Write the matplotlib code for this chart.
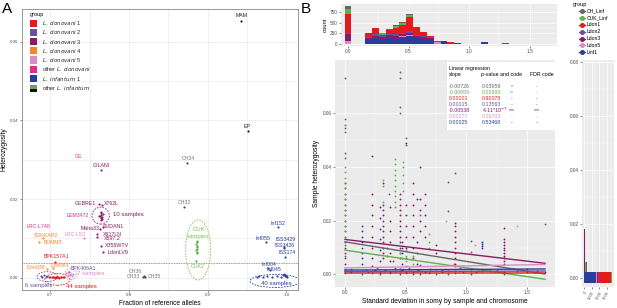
import matplotlib
matplotlib.use('Agg')
import matplotlib.pyplot as plt
from matplotlib.patches import Ellipse, Rectangle
from matplotlib.lines import Line2D

plt.rcParams['font.family'] = ['Liberation Sans', 'DejaVu Sans']

# ---------------- Panel A data ----------------
A_GROUPS = [r'$\it{L.\ donovani}$ 1', r'$\it{L.\ donovani}$ 2', r'$\it{L.\ donovani}$ 3',
            r'$\it{L.\ donovani}$ 4', r'$\it{L.\ donovani}$ 5', r'other $\it{L.\ donovani}$',
            r'$\it{L.\ infantum}$ 1', r'other $\it{L.\ infantum}$']
A_COLORS = ['#e41a1c', '#6a4fa3', '#8b1a62', '#f7862b', '#d98bc7', '#e7298a', '#2b3d9a', None]

LDON1_X = [0.700, 0.702, 0.703, 0.705, 0.706, 0.707, 0.708, 0.709, 0.710, 0.711, 0.713, 0.714, 0.716, 0.718, 0.706]
LDON1_Y = [0.0002, 0.0001, 0.0003, 0.0002, 0.0000, 0.0003, 0.0001, 0.0002, 0.0002, 0.0000, 0.0003, 0.0001, 0.0002, 0.0001, 0.0041]
LDON2_X = [0.688, 0.690, 0.692, 0.694, 0.696, 0.698, 0.724]
LDON2_Y = [0.0005, 0.0002, 0.0006, 0.0003, 0.0004, 0.0001, 0.0016]
LDON3_X = [0.765, 0.762, 0.766, 0.764, 0.765, 0.763, 0.766, 0.764, 0.765, 0.762, 0.767, 0.764, 0.766,
           0.763, 0.767, 0.760, 0.760, 0.764, 0.767]
LDON3_Y = [0.0274, 0.0187, 0.0185, 0.0164, 0.0160, 0.0156, 0.0155, 0.0152, 0.0148, 0.0158, 0.0162, 0.0167, 0.0150,
           0.0124, 0.0130, 0.0112, 0.0103, 0.0082, 0.0066]
LDON4_X = [0.691, 0.686, 0.696, 0.704]
LDON4_Y = [0.0100, 0.0090, 0.0022, 0.0026]
LDON5_X = [0.720, 0.722, 0.723, 0.725, 0.726, 0.728, 0.729, 0.743]
LDON5_Y = [0.0012, 0.0008, 0.0014, 0.0006, 0.0010, 0.0005, 0.0009, 0.0100]
LINF1_X = [0.990, 0.974, 0.997, 0.997, 0.998, 0.977, 0.980,
           0.963, 0.966, 0.970, 0.975, 0.982, 0.988, 0.993, 0.996, 0.997, 0.998, 0.999, 1.000, 1.001]
LINF1_Y = [0.0128, 0.0090, 0.0078, 0.0076, 0.0054, 0.0024, 0.0020,
           0.0003, 0.0005, 0.0002, 0.0004, 0.0003, 0.0005, 0.0002, 0.0006, 0.0009, 0.0004, 0.0007, 0.0005, 0.0003]
CH_X = [0.874, 0.870, 0.818, 0.819, 0.820]
CH_Y = [0.0291, 0.0181, 0.0002, 0.0004, 0.0001]
CUK_X = [0.886, 0.887, 0.885, 0.886, 0.887, 0.886, 0.885, 0.886, 0.887, 0.885]
CUK_Y = [0.0062, 0.0066, 0.0070, 0.0074, 0.0078, 0.0082, 0.0086, 0.0090, 0.0094, 0.0043]
OTHER_X = [0.943, 0.951]
OTHER_Y = [0.0652, 0.0374]

A_LABELS = ['MAM', 'EP', 'GE', 'GILANI', 'CH34', 'CH32', 'GEBRE1', 'X762L', 'LEM3472', '10 samples',
            'Malta33', 'SUDAN1', 'X917LN', 'X597.2', 'X356WTV', 'LdonLV9', 'LRC-L740', 'SUKKAR2', 'BUMM3',
            'LRC-L53', 'BPK157A1', 'Don038', 'Don081', 'BPK406A1', '7 samples', '6 samples', '44 samples',
            'CH36', 'CH33', 'CH35', 'CUK', 'samples', 'CUK2', 'Inf152', 'Inf055', 'ISS3429', 'ISS3426',
            'ISS174', 'Inf004', 'Inf045', '40 samples']
A_LABEL_X = [0.943, 0.950, 0.736, 0.765, 0.875, 0.870, 0.744, 0.778, 0.735, 0.799,
             0.751, 0.780, 0.779, 0.779, 0.785, 0.786, 0.685, 0.694, 0.703,
             0.731, 0.708, 0.682, 0.712, 0.742, 0.751, 0.685, 0.740,
             0.808, 0.806, 0.832, 0.889, 0.888, 0.887, 0.989, 0.971, 0.999, 0.998,
             1.001, 0.978, 0.984, 0.987]
A_LABEL_Y = [0.0667, 0.0384, 0.0308, 0.0285, 0.0302, 0.0191, 0.0190, 0.0190, 0.0158, 0.0161,
             0.0126, 0.0130, 0.0111, 0.0100, 0.0081, 0.0065, 0.0130, 0.0107, 0.0090,
             0.0109, 0.0054, 0.0025, 0.0031, 0.0024, 0.0010, -0.0020, -0.0023,
             0.0016, 0.0003, 0.0004, 0.0123, 0.0104, 0.0028, 0.0139, 0.0100, 0.0098, 0.0081,
             0.0064, 0.0035, 0.0021, -0.0014]
A_LABEL_COLORS = ['#222222', '#222222', '#e7298a', '#8b1a62', '#777777', '#777777', '#8b1a62', '#8b1a62',
                  '#e7298a', '#8b1a62', '#8b1a62', '#8b1a62', '#8b1a62', '#8b1a62', '#8b1a62', '#8b1a62',
                  '#e7298a', '#f7862b', '#f7862b', '#d98bc7', '#e41a1c', '#f7862b', '#f7862b', '#6a4fa3',
                  '#d98bc7', '#6a4fa3', '#e41a1c', '#777777', '#777777', '#777777', '#7cc04f', '#7cc04f',
                  '#7cc04f', '#2b3d9a', '#2b3d9a', '#2b3d9a', '#2b3d9a', '#2b3d9a', '#2b3d9a', '#2b3d9a',
                  '#2b3d9a']

# ---------------- Panel B data ----------------
B_GROUPS = ['CH_Linf', 'CUK_Linf', 'Ldon1', 'Ldon2', 'Ldon3', 'Ldon5', 'Linf1']
B_COLORS = ['#666666', '#5fb14b', '#e41a1c', '#6a4fa3', '#8b1a62', '#d98bc7', '#2b3d9a']
SLOPES = [-0.00726, -0.00655, 0.00001, 0.00015, -0.00538, 0.00077, 0.00025]
INTERCEPTS = [0.0121, 0.0090, 0.0005, 0.0010, 0.0130, 0.0024, 0.0016]
SLOPE_TEXT = ['-0.00726', '-0.00655', '0.00001', '0.00015', '-0.00538', '0.00077', '0.00025']
P_TEXT = ['0.03959', '0.00990', '0.90075', '0.13563', r'4.11*10$^{-7}$', '0.16703', '0.53468']
P_CODE = ['*', '**', '-', '-', '***', '-', '-']
FDR_CODE = ['-', '-', '-', '-', '***', '-', '-']

HIST_CENTERS = [0.0, 0.17, 0.226, 0.283, 0.34, 0.396, 0.453, 0.51, 0.566, 0.623, 0.68, 0.736,
                0.793, 0.85, 0.906, 1.02, 1.13, 1.30]
HIST_CH = [60, 0, 0, 0, 10, 10, 20, 20, 0, 0, 0, 0, 0, 0, 0, 10, 0, 0]
HIST_CUK = [120, 0, 0, 30, 10, 50, 40, 60, 10, 0, 0, 0, 0, 0, 0, 0, 0, 0]
HIST_LDON1 = [440, 100, 160, 40, 90, 155, 180, 320, 175, 100, 27, 0, 0, 50, 0, 0, 0, 20]
HIST_LDON2 = [40, 20, 30, 20, 30, 30, 40, 40, 30, 20, 20, 22, 0, 0, 0, 0, 0, 0]
HIST_LDON3 = [150, 20, 50, 40, 60, 80, 40, 60, 40, 40, 30, 20, 0, 0, 30, 0, 0, 0]
HIST_LDON5 = [80, 0, 0, 0, 0, 0, 20, 10, 0, 0, 0, 40, 0, 0, 0, 0, 0, 0]
HIST_LINF1 = [0, 130, 150, 120, 150, 120, 170, 200, 150, 130, 110, 0, 80, 0, 0, 0, 40, 0]

MARG_CENTERS = [0.0, 0.004, 0.008, 0.012, 0.016, 0.020, 0.024]
MARG_CH = [50, 100, 0, 0, 0, 0, 15]
MARG_CUK = [150, 150, 30, 20, 0, 40, 30]
MARG_LDON1 = [1550, 0, 0, 0, 0, 0, 0]
MARG_LDON2 = [100, 0, 0, 0, 0, 0, 0]
MARG_LDON3 = [150, 150, 120, 100, 80, 30, 0]
MARG_LDON5 = [100, 0, 0, 0, 0, 0, 0]
MARG_LINF1 = [1600, 0, 0, 0, 0, 0, 0]

CH_COL_X = [0.0, 0.45, 0.50, 0.85, 0.91, 1.04, 1.65, 0.36, 0.62]
CH_COL_Y = [[0.0730, 0.0577, 0.0556, 0.0544, 0.0531, 0.0451, 0.0432, 0.0110, 0.0070],
            [0.0755, 0.0730, 0.0624, 0.0600],
            [0.0506, 0.0480],
            [0.0345, 0.0237],
            [0.0378],
            [0.0125, 0.0084],
            [0.0186],
            [0.0300],
            [0.0220]]
CUK_COL_X = [0.0, 0.31, 0.41, 0.48, 0.45, 0.50, 0.69, 0.56]
CUK_COL_Y = [[0.040, 0.038, 0.036, 0.034, 0.032, 0.030, 0.028, 0.026, 0.024, 0.022, 0.020, 0.018, 0.016, 0.014],
             [0.035, 0.033, 0.027],
             [0.043, 0.041, 0.039, 0.037, 0.035, 0.033, 0.031, 0.029, 0.027, 0.025],
             [0.042, 0.040, 0.037, 0.034, 0.031],
             [0.008, 0.006],
             [0.009, 0.007, 0.005],
             [0.015, 0.012, 0.010],
             [0.007, 0.004]]
LDON3_COL_X = [0.0, 0.22, 0.31, 0.37, 0.45, 0.50, 0.56, 0.62, 0.66, 0.91, 1.31]
LDON3_COL_Y = [[0.034, 0.032, 0.030, 0.028, 0.026, 0.024, 0.022, 0.020, 0.018, 0.016, 0.014, 0.012, 0.010,
                0.008, 0.006, 0.004, 0.002],
               [0.044, 0.030, 0.026, 0.022, 0.018, 0.014, 0.010, 0.006, 0.003],
               [0.034, 0.026, 0.024, 0.022, 0.020, 0.018, 0.016, 0.014, 0.012, 0.010, 0.008, 0.006],
               [0.025, 0.020, 0.016, 0.012, 0.008, 0.005],
               [0.030, 0.028, 0.026, 0.024, 0.022, 0.020, 0.018, 0.016, 0.014, 0.012, 0.010, 0.008, 0.006],
               [0.049, 0.026, 0.022, 0.018, 0.014, 0.010, 0.006],
               [0.034, 0.030, 0.026, 0.022, 0.018, 0.014, 0.010, 0.006],
               [0.040, 0.028, 0.024, 0.020, 0.016],
               [0.030, 0.026, 0.022, 0.018, 0.014],
               [0.019, 0.018, 0.016, 0.014, 0.012, 0.010, 0.008, 0.006, 0.004, 0.003],
               [0.0174, 0.013, 0.012, 0.011, 0.010, 0.009, 0.008, 0.007, 0.006, 0.005, 0.004]]
LINF1_COL_X = [0.14, 0.29, 0.35, 0.47, 0.59, 0.75, 1.13]
LINF1_COL_Y = [[0.018, 0.016, 0.014, 0.012, 0.010, 0.008, 0.006, 0.004],
               [0.025, 0.021, 0.017, 0.013, 0.009, 0.005],
               [0.010, 0.007],
               [0.012, 0.010, 0.008, 0.006, 0.004],
               [0.028, 0.012, 0.008, 0.004],
               [0.011, 0.008],
               [0.0121, 0.0113, 0.0105, 0.0097]]
LINF1_BAND_X = [0.0, 0.05, 0.10, 0.14, 0.19, 0.22, 0.25, 0.29, 0.33, 0.37, 0.41, 0.45, 0.47, 0.50, 0.53,
                0.56, 0.59, 0.62, 0.66, 0.70, 0.75, 0.80, 0.85, 0.91, 0.97, 1.04, 1.08, 1.13, 1.20, 1.31,
                1.42, 1.50, 1.58, 1.65]
LINF1_BAND_Y = [0.0012, 0.0010, 0.0014, 0.0011, 0.0009, 0.0013, 0.0015, 0.0010, 0.0012, 0.0008, 0.0014,
                0.0011, 0.0016, 0.0009, 0.0012, 0.0010, 0.0013, 0.0011, 0.0009, 0.0012, 0.0014, 0.0010,
                0.0011, 0.0013, 0.0009, 0.0012, 0.0010, 0.0011, 0.0013, 0.0010, 0.0012, 0.0009, 0.0011,
                0.0010]
LDON1_BAND_X = [0.0, 0.14, 0.22, 0.29, 0.37, 0.40, 0.45, 0.50, 0.50, 0.56, 0.62, 0.62, 0.69, 0.75, 0.85,
                0.90, 0.91, 1.04, 1.31]
LDON1_BAND_Y = [0.0004, 0.0003, 0.0005, 0.0002, 0.0004, 0.0050, 0.0003, 0.0030, 0.0004, 0.0002, 0.0035,
                0.0003, 0.0004, 0.0002, 0.0003, 0.0040, 0.0004, 0.0003, 0.0002]
LDON2_BAND_X = [0.05, 0.17, 0.26, 0.33, 0.41, 0.48, 0.53, 0.60, 0.70, 0.80, 0.95, 1.10, 1.25, 1.50]
LDON2_BAND_Y = [0.0020, 0.0018, 0.0024, 0.0016, 0.0022, 0.0019, 0.0025, 0.0017, 0.0021, 0.0018, 0.0023,
                0.0020, 0.0016, 0.0019]
LDON5_PT_X = [0.0, 0.45, 0.55, 0.74, 0.83, 1.07, 1.42]
LDON5_PT_Y = [0.0020, 0.0025, 0.0060, 0.0030, 0.0200, 0.0110, 0.0180]

W, H = 617, 308


def rect(x0, y0, x1, y1):
    return [x0 / W, 1 - y1 / H, (x1 - x0) / W, (y1 - y0) / H]


def fpos(x, y):
    return x / W, 1 - y / H


def gg_gray(ax):
    ax.set_facecolor('#ebebeb')
    for s in ax.spines.values():
        s.set_visible(False)
    ax.grid(True, which='major', color='white', lw=0.5)
    ax.grid(True, which='minor', color='white', lw=0.25)
    ax.set_axisbelow(True)
    ax.tick_params(which='major', length=1.5, width=0.4, color='#333333', labelsize=3.4,
                   labelcolor='#4d4d4d', pad=1)
    ax.tick_params(which='minor', length=0)


fig = plt.figure(figsize=(W / 100, H / 100), dpi=100)

# ================= Panel A =================
axA = fig.add_axes(rect(22, 9, 298, 290))
axA.set_xlim(0.664, 1.015)
axA.set_ylim(-0.0031, 0.0683)
axA.set_xticks([0.7, 0.8, 0.9, 1.0])
axA.set_xticklabels(['0.7', '0.8', '0.9', '1.0'])
axA.set_xticks([0.75, 0.85, 0.95], minor=True)
axA.set_yticks([0.0, 0.02, 0.04, 0.06])
axA.set_yticklabels(['0.00', '0.02', '0.04', '0.06'])
axA.set_yticks([0.01, 0.03, 0.05], minor=True)
axA.grid(True, which='both', color='#ebebeb', lw=0.5)
axA.set_axisbelow(True)
for s in axA.spines.values():
    s.set_color('#888888')
    s.set_linewidth(0.6)
axA.tick_params(which='major', length=1.5, width=0.4, color='#333333', labelsize=3.2,
                labelcolor='#4d4d4d', pad=1)
axA.tick_params(which='minor', length=0)
axA.set_xlabel('Fraction of reference alleles', fontsize=4.8, labelpad=2)
axA.set_ylabel('Heterozygosity', fontsize=4.8, labelpad=2)

axA.axhline(0.0038, color='#777777', lw=0.6, ls=(0, (1, 1)), zorder=1)

ms = 2.4
for xs, ys, c in [(LDON1_X, LDON1_Y, A_COLORS[0]), (LDON2_X, LDON2_Y, A_COLORS[1]),
                  (LDON3_X, LDON3_Y, A_COLORS[2]), (LDON4_X, LDON4_Y, A_COLORS[3]),
                  (LDON5_X, LDON5_Y, A_COLORS[4]), (LINF1_X, LINF1_Y, A_COLORS[6]),
                  (CH_X, CH_Y, '#444444'), (CUK_X, CUK_Y, '#4caf3a'), (OTHER_X, OTHER_Y, '#111111')]:
    axA.scatter(xs, ys, s=ms, color=c, lw=0, zorder=3)

for t, x, y, c in zip(A_LABELS, A_LABEL_X, A_LABEL_Y, A_LABEL_COLORS):
    fs = 4.3 if 'samples' in t or t == 'CUK' else 3.8
    axA.text(x, y, t, color=c, fontsize=fs, ha='center', va='center', zorder=4)

# dashed ellipses around the clusters
for cx, cy, w, h, c in [(0.764, 0.0158, 0.022, 0.0043, '#8b1a62'), (0.696, 0.0003, 0.026, 0.0025, '#6a4fa3'),
                        (0.709, -0.0004, 0.032, 0.0030, '#e41a1c'), (0.726, 0.0009, 0.015, 0.0028, '#d98bc7'),
                        (0.888, 0.0071, 0.032, 0.0153, '#7cc04f'), (0.986, -0.0008, 0.064, 0.0033, '#2b3d9a')]:
    axA.add_patch(Ellipse((cx, cy), w, h, fill=False, ec=c, lw=0.6, ls=(0, (2, 1.5)), zorder=2))

# legend A
lx0, ltx = 0.029, 0.072
axA.text(lx0, 0.979, 'group', transform=axA.transAxes, fontsize=4, va='center', ha='left')
entry_y = [23.3, 32.3, 41.7, 50.7, 60.0, 69.3, 78.7, 88.0]
for name, c, py in zip(A_GROUPS, A_COLORS, entry_y):
    fy = 1 - (py - 9) / 281
    hh = 7 / 281
    ww = 7 / 276
    if c is None:
        for k, cc in enumerate(['#111111', '#5fb14b', '#888888']):
            axA.add_patch(Rectangle((lx0, fy - hh / 2 + k * hh / 3), ww, hh / 3, transform=axA.transAxes,
                                    color=cc, lw=0, zorder=5))
    else:
        axA.add_patch(Rectangle((lx0, fy - hh / 2), ww, hh, transform=axA.transAxes, color=c, lw=0, zorder=5))
    axA.text(ltx, fy, name, transform=axA.transAxes, fontsize=4, va='center', ha='left', color='#222222')

fig.text(*fpos(2, 9), 'A', fontsize=11, va='center', ha='left')
fig.text(*fpos(301, 9), 'B', fontsize=11, va='center', ha='left')

# ================= Panel B: top histogram =================
axH = fig.add_axes(rect(341, 4, 557, 46))
gg_gray(axH)
bottom = [0] * len(HIST_CENTERS)
stack = [(HIST_LINF1, 6), (HIST_LDON5, 5), (HIST_LDON3, 4), (HIST_LDON2, 3), (HIST_LDON1, 2),
         (HIST_CUK, 1), (HIST_CH, 0)]
for counts, gi in stack:
    axH.bar(HIST_CENTERS, counts, width=0.0566, bottom=bottom, color=B_COLORS[gi], lw=0, zorder=3)
    bottom = [b + c for b, c in zip(bottom, counts)]
axH.set_xlim(-0.058, 1.727)
axH.set_ylim(-45, 945)
axH.set_xticks([0.0, 0.5, 1.0, 1.5])
axH.set_xticks([0.25, 0.75, 1.25], minor=True)
axH.set_yticks([0, 250, 500, 750])
axH.set_yticks([125, 375, 625, 875], minor=True)
axH.set_ylabel('count', fontsize=4.2, labelpad=1.5)

# ================= Panel B: scatter =================
axS = fig.add_axes(rect(335, 60, 555, 287))
gg_gray(axS)
axS.set_xlim(-0.0825, 1.7325)
axS.set_ylim(-0.0047, 0.0798)
axS.set_xticks([0.0, 0.5, 1.0, 1.5])
axS.set_xticks([0.25, 0.75, 1.25], minor=True)
axS.set_yticks([0.0, 0.02, 0.04, 0.06])
axS.set_yticklabels(['0.00', '0.02', '0.04', '0.06'])
axS.set_yticks([0.01, 0.03, 0.05, 0.07], minor=True)
axS.set_xlabel('Standard deviation in somy by sample and chromosome', fontsize=4.8, labelpad=2)
axS.set_ylabel('Sample heterozygosity', fontsize=4.8, labelpad=2)

ps = 1.8
for cx, cy, gi in [(LINF1_COL_X, LINF1_COL_Y, 6), (LDON3_COL_X, LDON3_COL_Y, 4), (CUK_COL_X, CUK_COL_Y, 1),
                   (CH_COL_X, CH_COL_Y, 0)]:
    for x, ys in zip(cx, cy):
        axS.scatter([x] * len(ys), ys, s=ps, color=B_COLORS[gi], lw=0, zorder=3)
for xs, ys, gi in [(LINF1_BAND_X, LINF1_BAND_Y, 6), (LDON1_BAND_X, LDON1_BAND_Y, 2),
                   (LDON2_BAND_X, LDON2_BAND_Y, 3), (LDON5_PT_X, LDON5_PT_Y, 5)]:
    axS.scatter(xs, ys, s=ps, color=B_COLORS[gi], lw=0, zorder=3)

for sl, ic, c in zip(SLOPES, INTERCEPTS, B_COLORS):
    axS.plot([0.0, 1.65], [ic, ic + sl * 1.65], color=c, lw=1.0, zorder=4)

# regression table
fig.patches.append(Rectangle(fpos(447, 130), 110 / W, 68 / H, transform=fig.transFigure,
                             facecolor='white', edgecolor='none', zorder=5))
tfs = 3.8
fig.text(*fpos(449, 68.5), 'Linear regression', fontsize=tfs, va='center', ha='left', zorder=6)
fig.text(*fpos(449, 74.5), 'slope', fontsize=tfs, va='center', ha='left', zorder=6)
fig.text(*fpos(481, 74.5), 'p-value and code', fontsize=tfs, va='center', ha='left', zorder=6)
fig.text(*fpos(530, 74.5), 'FDR code', fontsize=tfs, va='center', ha='left', zorder=6)
for i in range(len(B_GROUPS)):
    py = 86.5 + 6 * i
    c = B_COLORS[i]
    fig.text(*fpos(449, py), SLOPE_TEXT[i], fontsize=tfs, color=c, va='center', ha='left', zorder=6)
    fig.text(*fpos(481.5, py), P_TEXT[i], fontsize=tfs, color=c, va='center', ha='left', zorder=6)
    fig.text(*fpos(512, py), P_CODE[i], fontsize=tfs, color=c, va='center', ha='center', zorder=6)
    fig.text(*fpos(537, py), FDR_CODE[i], fontsize=tfs, color=c, va='center', ha='center', zorder=6)

# ================= Panel B: right marginal histogram =================
axR = fig.add_axes(rect(582, 60, 614, 287))
gg_gray(axR)
left = [0] * len(MARG_CENTERS)
for counts, gi in [(MARG_LINF1, 6), (MARG_LDON5, 5), (MARG_LDON3, 4), (MARG_LDON2, 3), (MARG_LDON1, 2),
                   (MARG_CUK, 1), (MARG_CH, 0)]:
    axR.barh(MARG_CENTERS, counts, height=0.004, left=left, color=B_COLORS[gi], lw=0, zorder=3)
    left = [a + b for a, b in zip(left, counts)]
axR.set_ylim(-0.0034, 0.0806)
axR.set_xlim(-250, 3900)
axR.set_yticks([0.0, 0.02, 0.04, 0.06, 0.08])
axR.set_yticklabels(['0.00', '0.02', '0.04', '0.06', '0.08'])
axR.set_yticks([0.01, 0.03, 0.05, 0.07], minor=True)
axR.set_xticks([0, 1000, 2000, 3000])
axR.set_xticks([500, 1500, 2500, 3500], minor=True)
axR.set_xticklabels(['0', '1000', '2000', '3000'], rotation=60, ha='right', rotation_mode='anchor')
axR.tick_params(axis='x', labelsize=3.0)

# legend B
axL = fig.add_axes(rect(570, 0, 617, 56))
axL.set_xlim(570, 617)
axL.set_ylim(56, 0)
axL.axis('off')
axL.text(573, 4.5, 'group', fontsize=4, va='center', ha='left')
for i, (g, c) in enumerate(zip(B_GROUPS, B_COLORS)):
    py = 11.2 + 6.85 * i
    axL.add_line(Line2D([578.5, 584.5], [py, py], color=c, lw=0.9))
    axL.plot([581.5], [py], 'o', color=c, ms=2.6)
    axL.text(587, py, g, fontsize=3.6, va='center', ha='left')

fig.savefig('out.png', dpi=100)
